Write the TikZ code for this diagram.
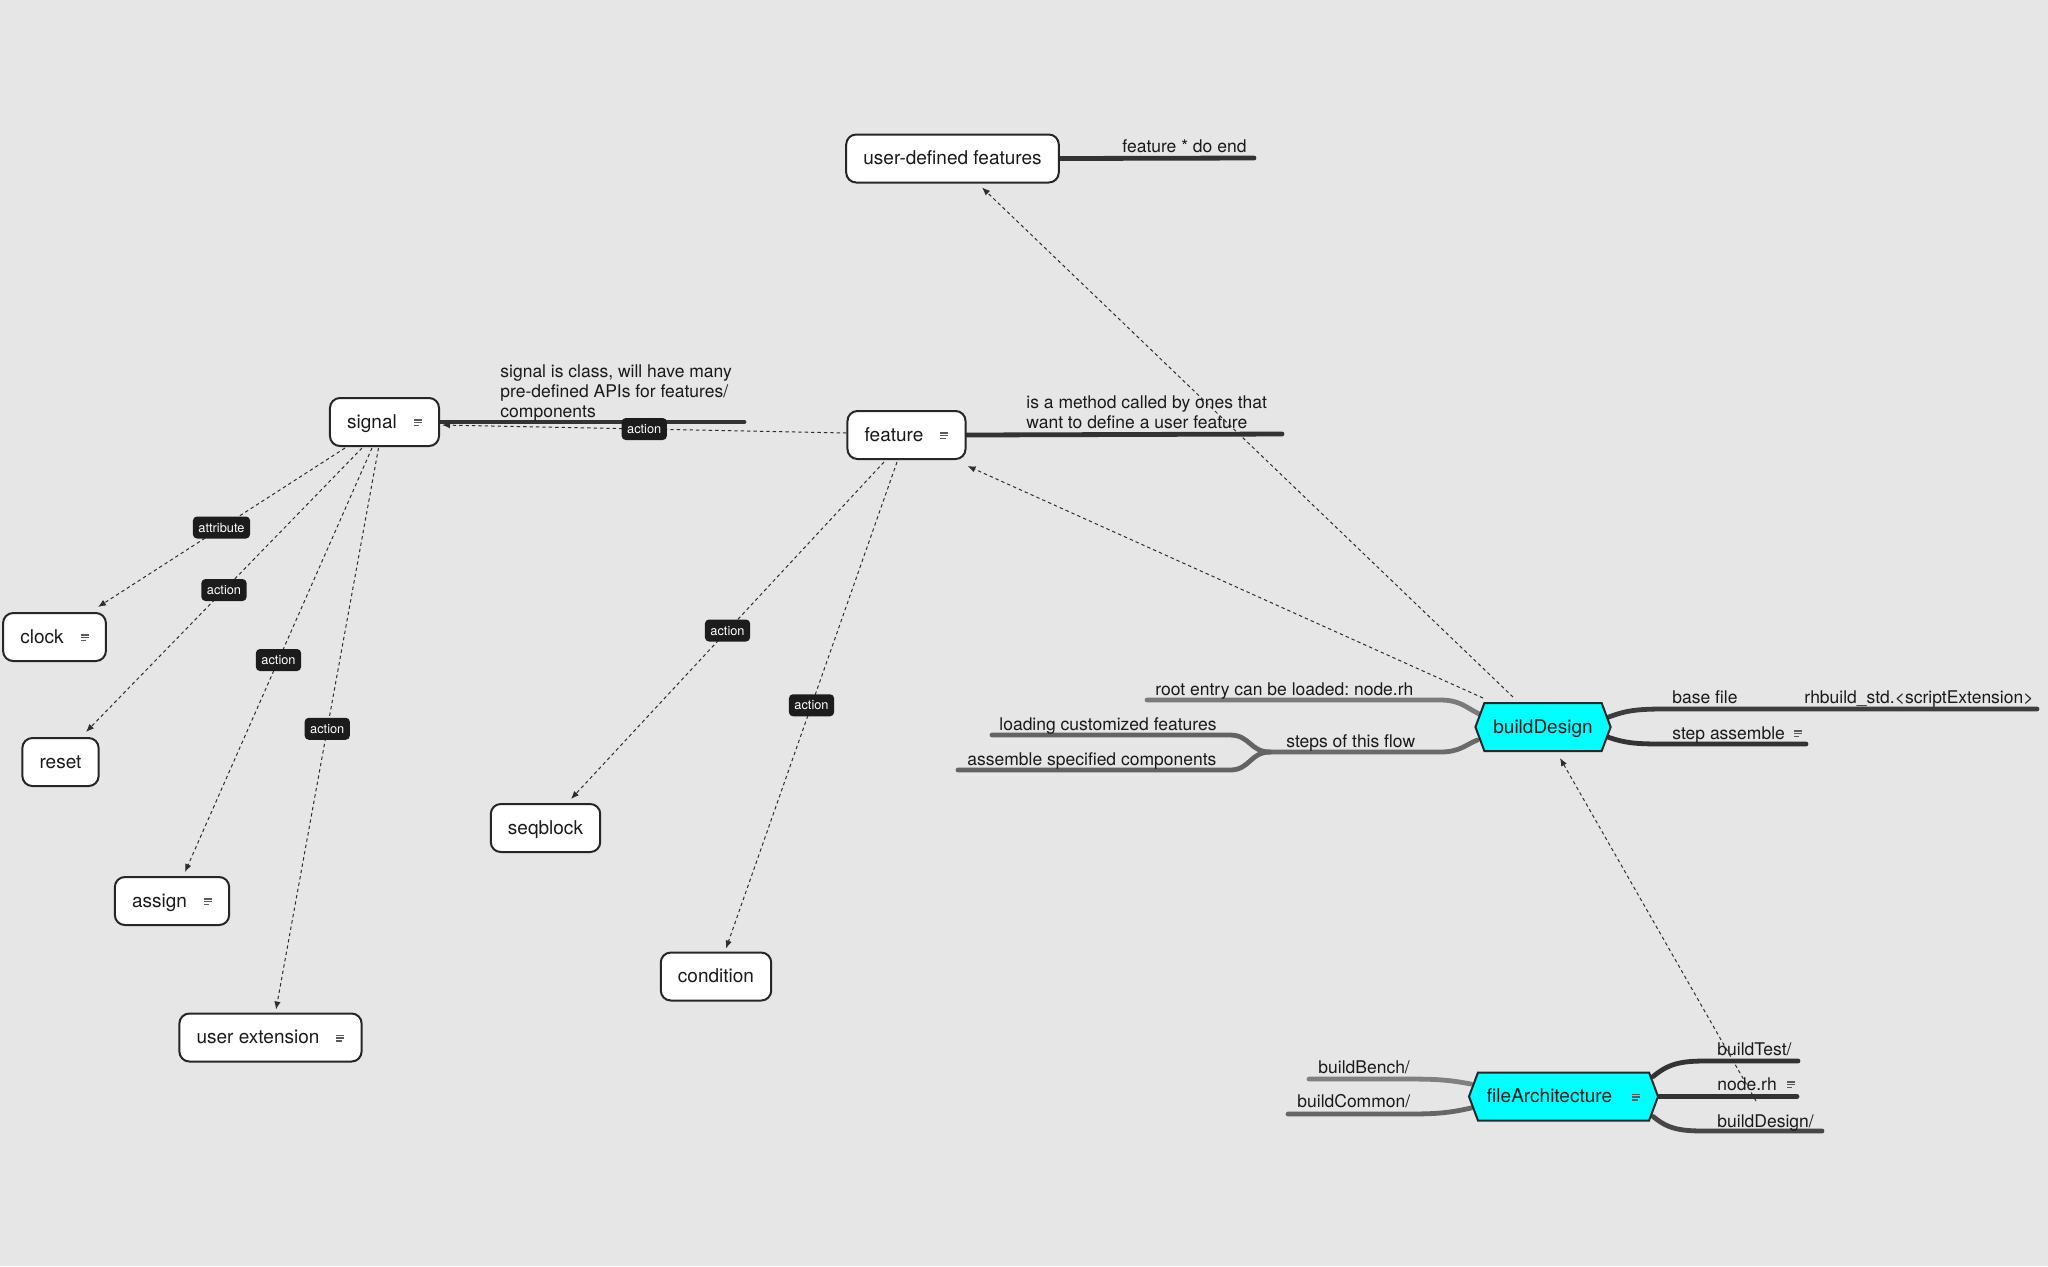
\documentclass[tikz,border=0pt]{standalone}
\usepackage{fontspec}
\setmainfont{TeX Gyre Heros}
\usetikzlibrary{arrows.meta,calc,shapes.symbols}
\frenchspacing

\definecolor{canvas}{HTML}{E6E6E6}
\definecolor{boxline}{HTML}{262626}
\definecolor{ink}{HTML}{1A1A1A}
\definecolor{notegray}{HTML}{5A5A5A}
\definecolor{tagfill}{HTML}{1C1C1C}
\definecolor{relline}{HTML}{2E2E2E}
\definecolor{hexfill}{HTML}{00FFFF}
\definecolor{deep}{HTML}{333333}
\definecolor{deepmid}{HTML}{3D3D3D}
\definecolor{midgray}{HTML}{474747}
\definecolor{graya}{HTML}{636363}
\definecolor{grayb}{HTML}{6A6A6A}
\definecolor{grayc}{HTML}{666666}
\definecolor{grayd}{HTML}{7A7A7A}
\definecolor{graye}{HTML}{808080}

\newcommand\boxfont{\fontsize{9.5}{11}\selectfont\frenchspacing}
\newcommand\twigfont{\fontsize{8.75}{10}\selectfont\frenchspacing}
\newcommand\tagfont{\fontsize{6.4}{7}\selectfont}
% small "has note" marker: three short rules
\newcommand\noteglyph{\raisebox{1pt}{\textcolor{notegray}{\vbox{\hrule width 4pt height 0.75pt\vskip 0.6pt\hrule width 4pt height 0.75pt\vskip 0.6pt\hrule width 2.75pt height 0.75pt}}}}

\pgfdeclarelayer{bg}
\pgfdeclarelayer{edges}
\pgfsetlayers{bg,edges,main}

\begin{document}
\begin{tikzpicture}[x=0.5pt,y=-0.5pt,
  box/.style={draw=boxline, line width=1pt, fill=white, rounded corners=5pt,
    inner xsep=8.6pt, minimum height=24pt, text height=7pt, text depth=1pt,
    font=\boxfont, text=ink},
  hexnode/.style={shape=signal, signal to=east and west, signal pointer angle=139,
    draw=boxline, line width=1pt, fill=hexfill, inner xsep=4.5pt,
    minimum height=24pt, text height=7pt, text depth=1pt, font=\boxfont, text=ink},
  twiglabel/.style={anchor=base west, inner sep=0pt, font=\twigfont, text=ink},
  notetext/.style={anchor=north west, inner sep=0pt, align=left, font=\twigfont, text=ink},
  lbl/.style={fill=tagfill, text=white, font=\tagfont, rounded corners=2pt,
    inner xsep=2.75pt, inner ysep=0pt, minimum height=11pt, text height=4.8pt, text depth=0.2pt},
  rel/.style={draw=relline, line width=0.5pt, dash pattern=on 1.7pt off 1.5pt,
    -{Latex[length=4pt,width=3.2pt]}},
  twig/.style={line width=2.4pt, line cap=round}
]
\begin{pgfonlayer}{bg}
  \fill[canvas] (0,0) rectangle (2048,1266);
\end{pgfonlayer}
\useasboundingbox (0,0) rectangle (2048,1266);

% topic boxes
\node[box] (udf) at (952.5,158.5) {user-defined features};
\node[box] (signal) at (384.5,422) {signal\hspace{8.5pt}\noteglyph};
\node[box] (feature) at (906.5,435) {feature\hspace{8.5pt}\noteglyph};
\node[box] (clock) at (54.5,637) {clock\hspace{8.5pt}\noteglyph};
\node[box] (reset) at (60.5,762) {reset};
\node[box] (assign) at (172,901) {assign\hspace{8.5pt}\noteglyph};
\node[box] (userext) at (270.5,1037.5) {user extension\hspace{8.5pt}\noteglyph};
\node[box] (seqblock) at (545.5,828) {seqblock};
\node[box] (condition) at (716,976.5) {condition};

% hexagonal main topics
\node[hexnode] (bd) at (1543,727) {buildDesign};
\node[hexnode] (fa) at (1563.5,1096.5) {fileArchitecture\hspace{10pt}\noteglyph};

% notes beside boxes
\node[notetext] (signalnote) at (500,364) {signal is class, will have many\\pre-defined APIs for features/\\components};
\node[notetext] (featurenote) at (1026,395) {is a method called by ones that\\want to define a user feature};
\node[twiglabel] (udfnote) at (1122,152) {feature * do end};

% branch labels
\node[twiglabel] (rootentry) at (1155,695) {root entry can be loaded: node.rh};
\node[twiglabel] (steps) at (1286,747) {steps of this flow};
\node[twiglabel] (loading) at (999,730) {loading customized features};
\node[twiglabel] (assemble) at (967,765) {assemble specified components};
\node[twiglabel] (basefile) at (1672,703) {base file};
\node[twiglabel] (rhbuild) at (1804,703) {rhbuild\_std.<scriptExtension>};
\node[twiglabel] (stepasm) at (1672,739) {step assemble\hspace{4.5pt}\noteglyph};
\node[twiglabel] (buildtest) at (1717,1055) {buildTest/};
\node[twiglabel] (noderh) at (1717,1090) {node.rh\hspace{5pt}\noteglyph};
\node[twiglabel] (builddesign) at (1717,1127) {buildDesign/};
\node[twiglabel] (buildbench) at (1318,1073) {buildBench/};
\node[twiglabel] (buildcommon) at (1297,1107) {buildCommon/};

% branch ends
\coordinate (udftail) at (1254,158);
\coordinate (featuretail) at (1282,434);
\coordinate (signaltail) at (744,422);
\coordinate (rootend) at (1147,700);
\coordinate (split) at (1270,752);
\coordinate (loadend) at (992,735);
\coordinate (asmend) at (958,770);
\coordinate (baseend) at (2037,709);
\coordinate (stepend) at (1806,744);
\coordinate (testend) at (1798,1061);
\coordinate (nrhend) at (1797,1096.5);
\coordinate (bdirend) at (1822,1131);
\coordinate (benchend) at (1309,1079);
\coordinate (commonend) at (1288,1114);
\coordinate (nrhlink) at (1756,1101);

\begin{pgfonlayer}{edges}
  \draw[twig, deep] (udf.east) -- (udftail);
  \draw[twig, deep] (feature.east) -- (featuretail);
  \draw[twig, deep] (signal.east) -- (signaltail);

  \draw[twig, grayd] ($(bd.west)+(5,-13)$) .. controls (1465,707) and (1460,700) .. (1440,700) -- (rootend);
  \draw[twig, grayb] ($(bd.west)+(3,13)$) .. controls (1465,745) and (1460,752) .. (1440,752) -- (split);
  \draw[twig, graya] (split) .. controls (1250,752) and (1250,735) .. (1230,735) -- (loadend);
  \draw[twig, graya] (split) .. controls (1250,752) and (1250,770) .. (1230,770) -- (asmend);

  \draw[twig, deepmid] ($(bd.east)+(-3,-10)$) .. controls (1625,711) and (1635,709) .. (1663,709) -- (baseend);
  \draw[twig, deep] ($(bd.east)+(-4,10)$) .. controls (1625,743) and (1635,744) .. (1663,744) -- (stepend);

  \draw[twig, deep] ($(fa.east)+(-6,-20)$) .. controls (1668,1064) and (1680,1061) .. (1705,1061) -- (testend);
  \draw[twig, deep] (fa.east) -- (nrhend);
  \draw[twig, midgray] ($(fa.east)+(-6,20)$) .. controls (1668,1129) and (1680,1131) .. (1705,1131) -- (bdirend);
  \draw[twig, graye] ($(fa.west)+(3,-12.5)$) .. controls (1445,1079) and (1430,1079) .. (1400,1079) -- (benchend);
  \draw[twig, grayc] ($(fa.west)+(3,11.5)$) .. controls (1445,1114) and (1430,1114) .. (1400,1114) -- (commonend);
\end{pgfonlayer}

% relations
\draw[rel] ($(signal.south)+(-39.5,1)$) -- node[lbl]{attribute} ($(clock.north)+(43.5,-5)$);
\draw[rel] ($(signal.south)+(-22.5,1)$) -- node[lbl]{action} ($(reset.north)+(25.5,-5)$);
\draw[rel] ($(signal.south)+(-12.5,1)$) -- node[lbl]{action} ($(assign.north)+(13,-4)$);
\draw[rel] ($(signal.south)+(-6,1)$) -- node[lbl]{action} ($(userext.north)+(5.5,-3)$);
\draw[rel] ($(feature.south)+(-22.5,2)$) -- node[lbl]{action} ($(seqblock.north)+(25.5,-4)$);
\draw[rel] ($(feature.south)+(-9.5,2)$) -- node[lbl]{action} ($(condition.north)+(10,-3)$);
\draw[rel] ($(feature.west)+(0,-2)$) -- node[lbl]{action} ($(signal.east)+(2,3)$);
\draw[rel] ($(bd.north)+(-60,-4)$) -- ($(feature.south east)+(1,6)$);
\draw[rel] ($(bd.north)+(-30,-5)$) -- ($(udf.south)+(29.5,4)$);
\draw[rel] (nrhlink) -- ($(bd.south)+(17,6)$);
\end{tikzpicture}
\end{document}
